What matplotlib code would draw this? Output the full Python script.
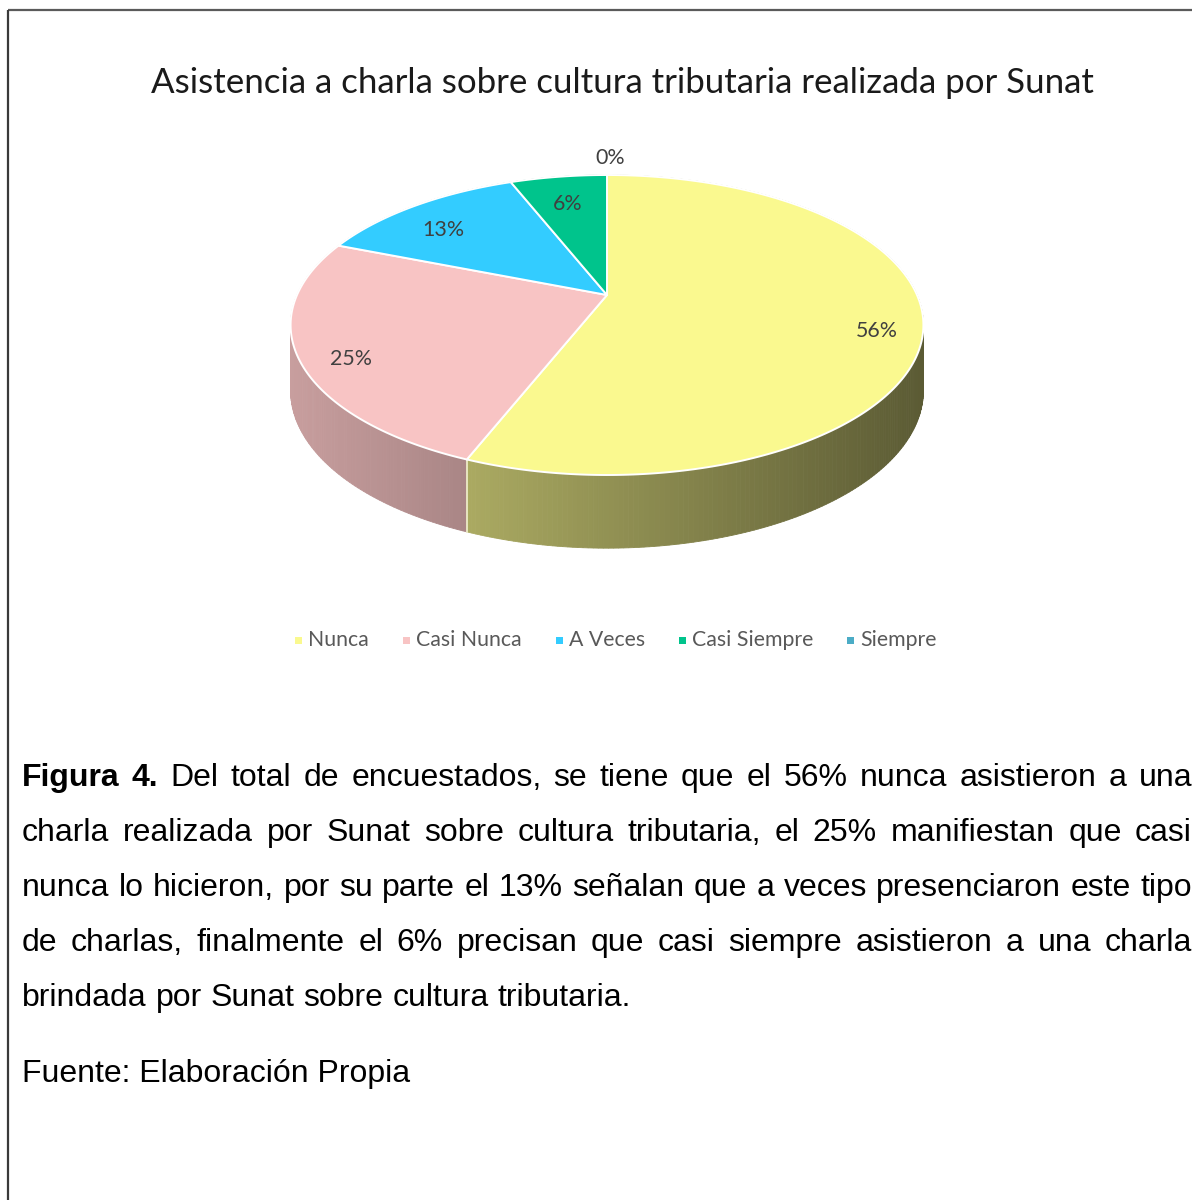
import numpy as np
import matplotlib
matplotlib.use("Agg")
import matplotlib.pyplot as plt
from matplotlib.patches import Polygon
from matplotlib.colors import to_rgb

# ---------------- data ----------------
categories = ["Nunca", "Casi Nunca", "A Veces", "Casi Siempre", "Siempre"]
values = [56, 25, 13, 6, 0]
value_labels = ["56%", "25%", "13%", "6%", "0%"]
colors = ["#FAF98F", "#F8C4C4", "#33CCFF", "#00C48C", "#4BACC6"]
title = "Asistencia a charla sobre cultura tributaria realizada por Sunat"
caption_lines = [
    "Figura 4. Del total de encuestados, se tiene que el 56% nunca asistieron a una",
    "charla realizada por Sunat sobre cultura tributaria, el 25% manifiestan que casi",
    "nunca lo hicieron, por su parte el 13% señalan que a veces presenciaron este tipo",
    "de charlas, finalmente el 6% precisan que casi siempre asistieron a una charla",
    "brindada por Sunat sobre cultura tributaria.",
]
bold_words = 2  # "Figura 4."
source = "Fuente: Elaboración Propia"

# ---------------- figure ----------------
W, H = 1192, 1200
fig = plt.figure(figsize=(W / 100, H / 100), dpi=100)
ax = fig.add_axes([0, 0, 1, 1])
ax.set_xlim(0, W)
ax.set_ylim(H, 0)
ax.axis("off")
renderer = fig.canvas.get_renderer()

def text_width(t):
    bb = t.get_window_extent(renderer=renderer)
    return bb.width

# frame
ax.plot([8, W], [10, 10], color="#5a5a5a", lw=1.6, solid_capstyle="butt")
ax.plot([8, 8], [10, H], color="#3a3a3a", lw=1.6, solid_capstyle="butt")

# ---------------- 3D pie ----------------
CX, CY = 607, 295      # projected pie centre
A, B, K = 310, 144, 0.2
DEPTH = 64

def proj(theta_deg, r=1.0):
    th = np.radians(theta_deg)
    u = r * np.sin(th)
    v = r * np.cos(th)
    s = 1.0 / (1.0 + K * v)
    return CX + A * u * s, CY - B * v * s, s

def shade(col, x):
    f = 0.80 - (x - 300) * 0.0007
    f = min(max(f, 0.3), 0.85)
    r, g, b = to_rgb(col)
    return (r * f, g * f, b * f)

total = float(sum(values))
bounds = np.concatenate([[0], np.cumsum(values)]) / total * 360.0

# side walls
quads = []
for i, val in enumerate(values):
    if val <= 0:
        continue
    a0, a1 = bounds[i], bounds[i + 1]
    n = max(int((a1 - a0) / 0.75), 2)
    angs = np.linspace(a0, a1, n + 1)
    for j in range(n):
        t0, t1 = angs[j], angs[j + 1]
        x0, y0, s0 = proj(t0)
        x1, y1, s1 = proj(t1)
        d0 = DEPTH * s0 ** 0.6
        d1 = DEPTH * s1 ** 0.6
        depth_key = np.cos(np.radians((t0 + t1) / 2))
        quads.append((depth_key, [(x0, y0), (x1, y1), (x1, y1 + d1), (x0, y0 + d0)],
                      shade(colors[i], (x0 + x1) / 2)))
quads.sort(key=lambda q: -q[0])
for _, pts, c in quads:
    ax.add_patch(Polygon(pts, closed=True, facecolor=c, edgecolor=c, lw=0.6, zorder=2))

# vertical division lines on the visible side
for b in bounds[1:-1]:
    if np.cos(np.radians(b)) < 0:
        x, y, s = proj(b)
        ax.plot([x, x], [y, y + DEPTH * s ** 0.6], color="#f2f0d0", lw=1.2, zorder=3)

# top faces
for i, val in enumerate(values):
    if val <= 0:
        continue
    a0, a1 = bounds[i], bounds[i + 1]
    angs = np.linspace(a0, a1, max(int((a1 - a0) / 0.5), 2) + 1)
    pts = [(CX, CY)] + [proj(a)[:2] for a in angs]
    ax.add_patch(Polygon(pts, closed=True, facecolor=colors[i], edgecolor="white",
                         lw=1.4, joinstyle="round", zorder=4))

# data labels (size fitted so "56%" is ~42 px wide)
lab_objs = []
for i, val in enumerate(values):
    mid = (bounds[i] + bounds[i + 1]) / 2
    r = 0.85 if val > 0 else 1.3
    x, y, _ = proj(mid, r)
    lab_objs.append(ax.text(x + 3, y + 12, value_labels[i], ha="center", va="center",
                            fontsize=13, family="Lato", color="#404040", zorder=6))
lfs = 13 * 42 / text_width(lab_objs[0])
for t in lab_objs:
    t.set_fontsize(lfs)

# title (fit to width)
tt = ax.text(622, 83, title, ha="center", va="center", family="Lato",
             fontsize=22, color="#1a1a1a")
tw = text_width(tt)
tt.set_fontsize(22 * 940 / tw)

# legend
leg_texts = []
for i, c in enumerate(categories):
    t = ax.text(0, 640, c, ha="left", va="center", family="Lato",
                fontsize=14, color="#595959")
    leg_texts.append(t)
ws = [text_width(t) for t in leg_texts]
scale = 61 / ws[0]
for t in leg_texts:
    t.set_fontsize(14 * scale)
ws = [text_width(t) for t in leg_texts]
msz, mgap, igap = 7, 6, 34
total_w = sum(msz + mgap + w for w in ws) + igap * (len(ws) - 1)
x = 616 - total_w / 2
for i, t in enumerate(leg_texts):
    ax.add_patch(Polygon([(x, 636.5), (x + msz, 636.5), (x + msz, 643.5), (x, 643.5)],
                         closed=True, facecolor=colors[i], edgecolor="none"))
    t.set_x(x + msz + mgap)
    x += msz + mgap + ws[i] + igap

# caption (justified)
FS = 20
probe = ax.text(0, 0, caption_lines[-1], family="Liberation Sans", fontsize=FS)
FS = FS * 606 / text_width(probe)
probe.remove()
LEFT, RIGHT = 22, 1192
baselines = [786, 841, 896, 951, 1006]
for li, line in enumerate(caption_lines):
    words = line.split(" ")
    objs = []
    for wi, w in enumerate(words):
        bold = (li == 0 and wi < bold_words)
        objs.append(ax.text(0, baselines[li], w, ha="left", va="baseline",
                            family="Liberation Sans", fontsize=FS,
                            fontweight="bold" if bold else "normal", color="black"))
    widths = [text_width(o) for o in objs]
    if li < len(caption_lines) - 1:
        gap = (RIGHT - LEFT - sum(widths)) / (len(words) - 1)
    else:
        sp = ax.text(0, 0, "a a", family="Liberation Sans", fontsize=FS)
        sp2 = ax.text(0, 0, "aa", family="Liberation Sans", fontsize=FS)
        gap = text_width(sp) - text_width(sp2)
        sp.remove(); sp2.remove()
    xx = LEFT
    for o, w in zip(objs, widths):
        o.set_x(xx)
        xx += w + gap

ax.text(LEFT, 1082, source, ha="left", va="baseline", family="Liberation Sans",
        fontsize=FS, color="black")

fig.savefig("out.png", dpi=100, facecolor="white")
